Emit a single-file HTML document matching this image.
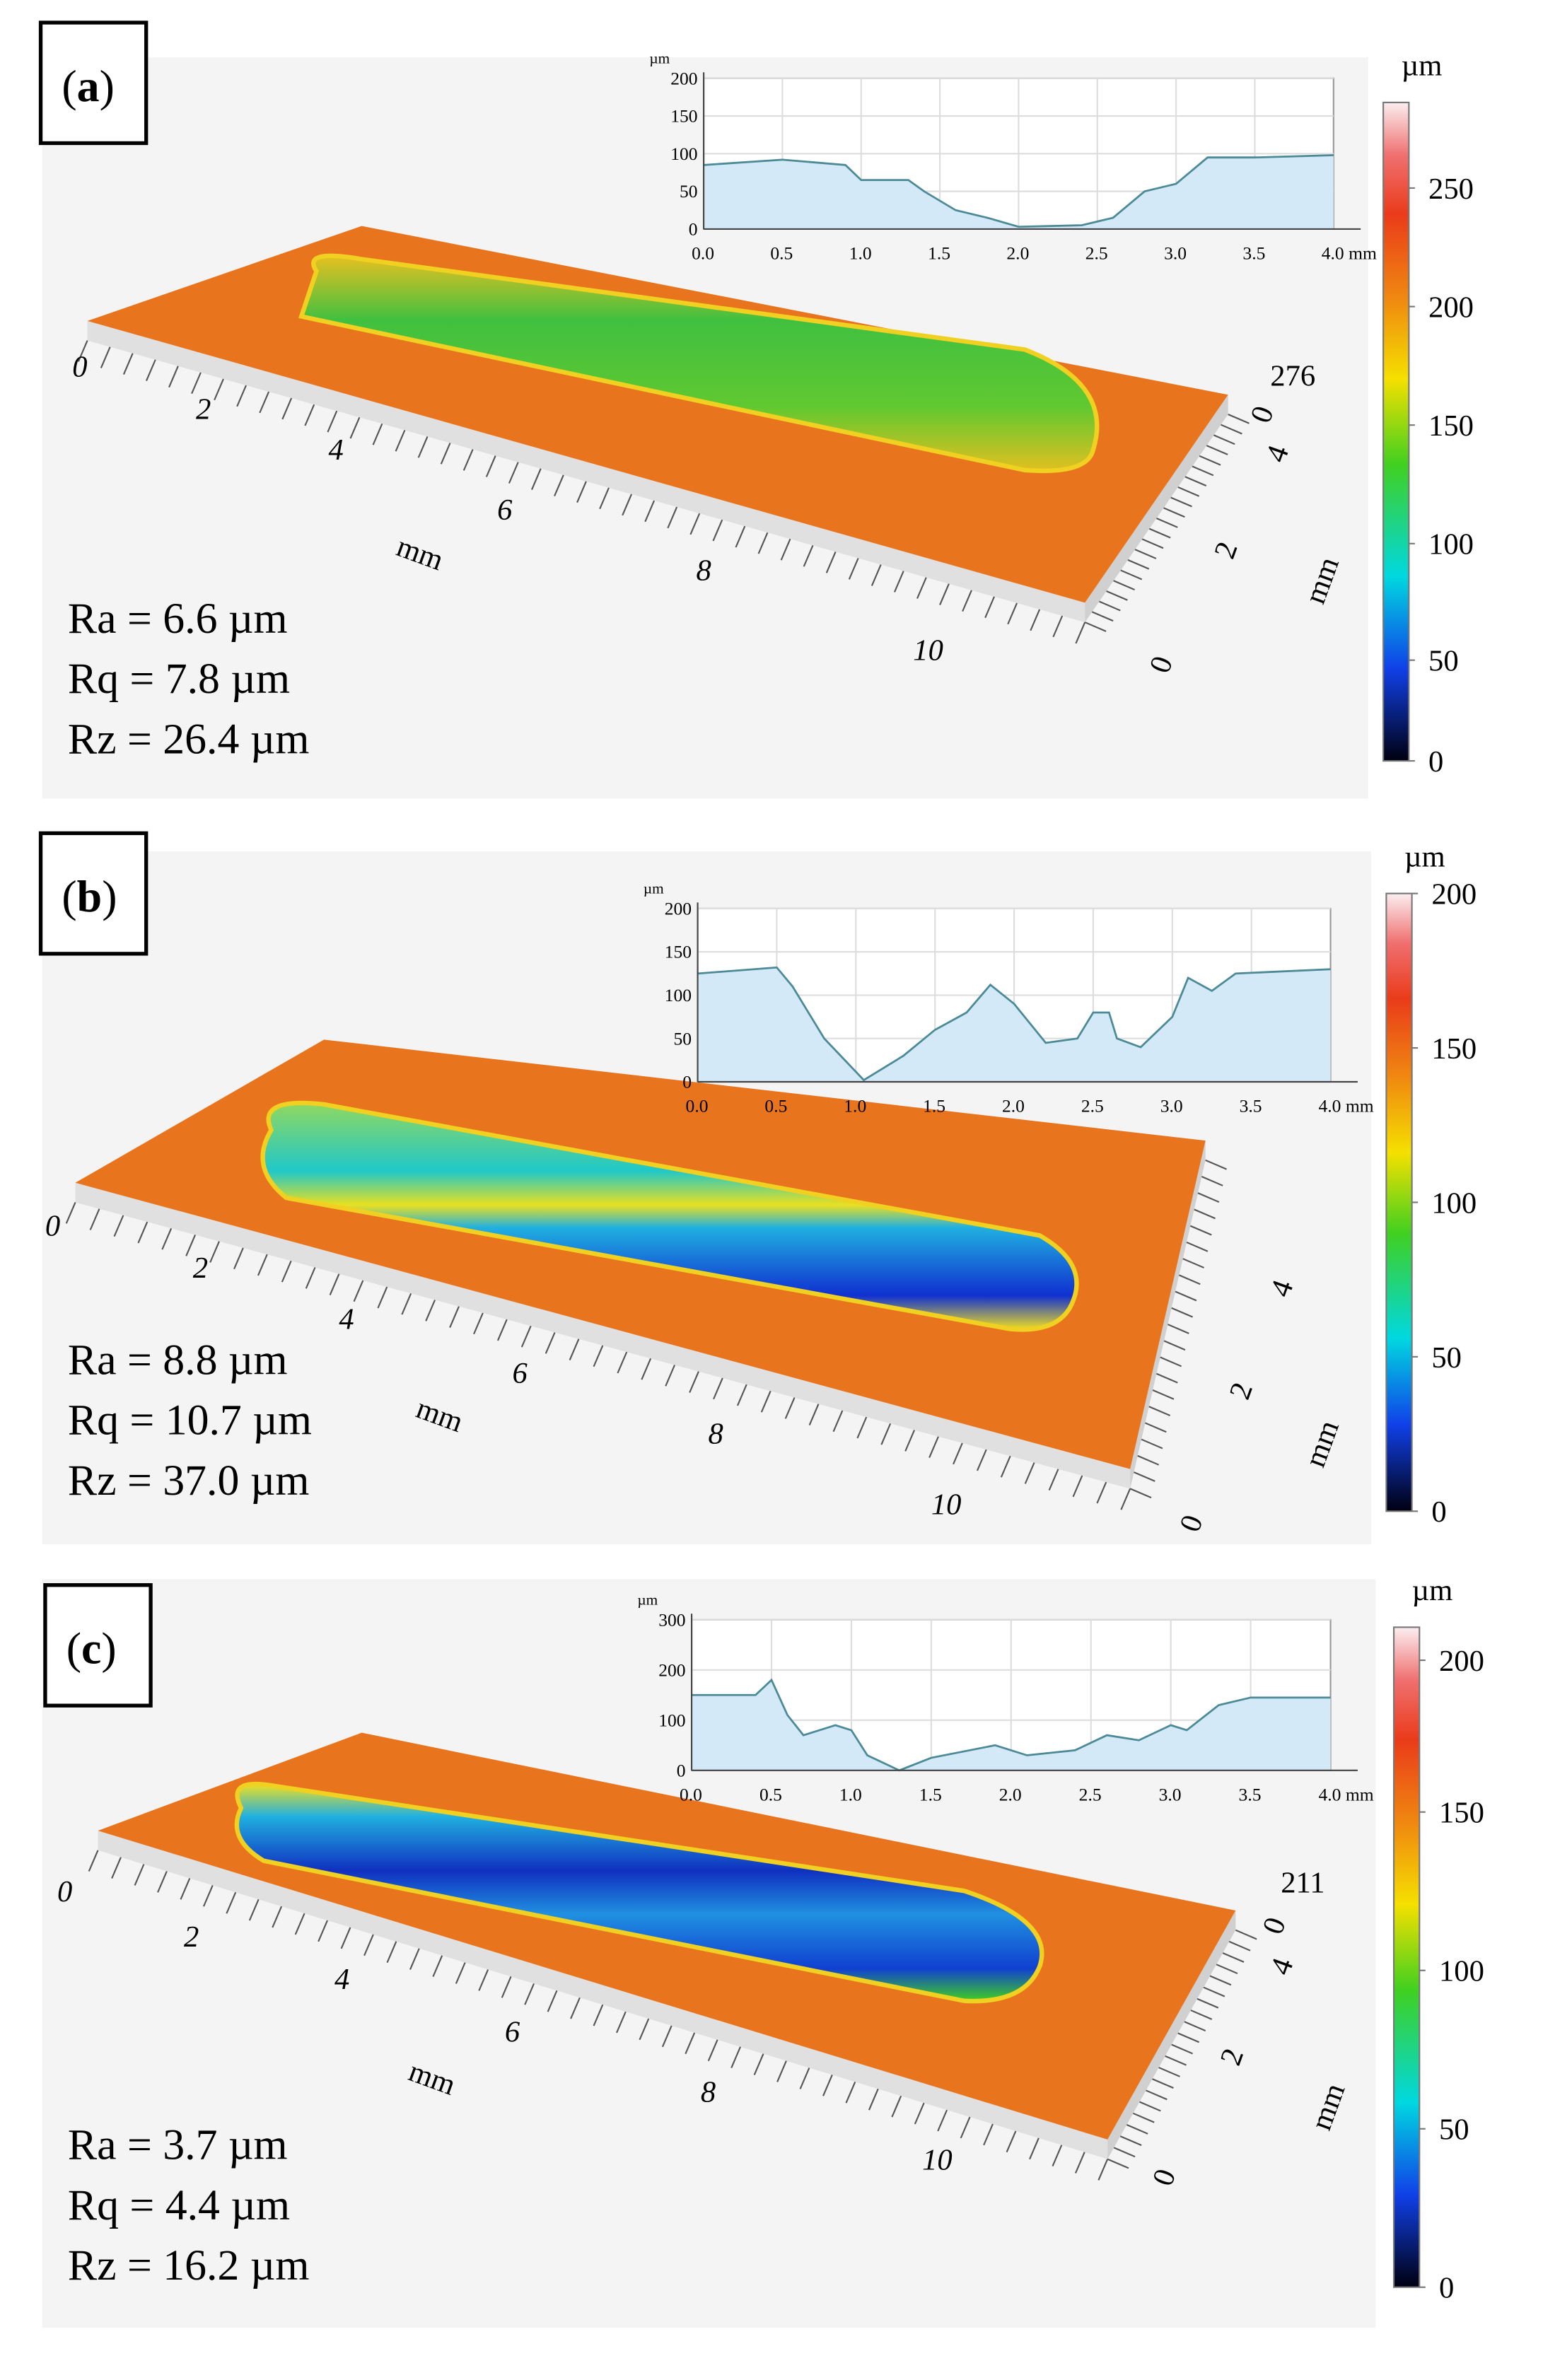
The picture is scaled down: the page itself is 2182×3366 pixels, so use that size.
<!DOCTYPE html>
<html><head><meta charset="utf-8"><style>
html,body{margin:0;padding:0;background:#fff}
svg{display:block}
</style></head><body>
<svg id="s" width="2182" height="3366" viewBox="0 0 1024 1579.6" preserveAspectRatio="none" xmlns="http://www.w3.org/2000/svg" font-family="Liberation Serif, serif">
<defs>
<linearGradient id="cb" x1="0" y1="0" x2="0" y2="1">
<stop offset="0" stop-color="#fbeef0"/><stop offset="0.08" stop-color="#f07070"/><stop offset="0.17" stop-color="#ea3b1a"/><stop offset="0.3" stop-color="#f08a10"/><stop offset="0.42" stop-color="#f5e000"/><stop offset="0.55" stop-color="#40d020"/><stop offset="0.72" stop-color="#00d8e0"/><stop offset="0.86" stop-color="#1040e8"/><stop offset="1" stop-color="#000010"/>
</linearGradient>
<linearGradient id="ga" x1="0" y1="0" x2="0" y2="1"><stop offset="0" stop-color="#e8c020"/><stop offset="0.3" stop-color="#40c040"/><stop offset="0.7" stop-color="#60c830"/><stop offset="1" stop-color="#e0c020"/></linearGradient>
<linearGradient id="gb" x1="0" y1="0" x2="0" y2="1"><stop offset="0" stop-color="#90d860"/><stop offset="0.3" stop-color="#20c8c8"/><stop offset="0.45" stop-color="#e8e020"/><stop offset="0.55" stop-color="#20b0e0"/><stop offset="0.85" stop-color="#1030d0"/><stop offset="1" stop-color="#f0e020"/></linearGradient>
<linearGradient id="gc" x1="0" y1="0" x2="0" y2="1"><stop offset="0" stop-color="#f0e020"/><stop offset="0.15" stop-color="#20b0e0"/><stop offset="0.4" stop-color="#1030c0"/><stop offset="0.6" stop-color="#2090e0"/><stop offset="0.85" stop-color="#1040d0"/><stop offset="1" stop-color="#40d020"/></linearGradient>
</defs>
<g id="g"></g>
</svg>
<script>
const g=document.getElementById('g');let h='';
function poly(p,f,extra=''){h+=`<polygon points="${p.map(a=>a.join(',')).join(' ')}" fill="${f}" ${extra}/>`;}
function txt(x,y,t,s,extra=''){h+=`<text x="${x}" y="${y}" font-size="${s}" ${extra}>${t}</text>`;}
function panel(o){
 h+=`<rect x="${o.bg[0]}" y="${o.bg[1]}" width="${o.bg[2]}" height="${o.bg[3]}" fill="#f4f4f4"/>`;
 h+=`<rect x="${o.box[0]}" y="${o.box[1]}" width="70" height="80" fill="#fff" stroke="#000" stroke-width="2.5"/>`;
 txt(o.box[0]+14,o.box[1]+52,`(<tspan font-weight="bold">${o.lab}</tspan>)`,30);
 const [A,B,C,D]=o.q, t=13;
 poly([A,B,[B[0],B[1]+t],[A[0],A[1]+t]],'#e0e0e0');
 poly([B,C,[C[0],C[1]+t],[B[0],B[1]+t]],'#d0d0d0');
 poly([A,B,C,D],'#e8741e');
 h+=`<path d="${o.pocket}" fill="url(#${o.grad})" stroke="#f0d020" stroke-width="3"/>`;
 for(let i=0;i<=44;i++){const f=i/44;const x=A[0]+(B[0]-A[0])*f,y=A[1]+t+(B[1]-A[1])*f;h+=`<line x1="${x}" y1="${y}" x2="${x-6}" y2="${y+14}" stroke="#555" stroke-width="1"/>`;}
 for(let i=0;i<=20;i++){const f=i/20;const x=B[0]+(C[0]-B[0])*f,y=B[1]+t+(C[1]-B[1])*f;h+=`<line x1="${x}" y1="${y}" x2="${x+14}" y2="${y+6}" stroke="#555" stroke-width="1"/>`;}
 o.xl.forEach(([x,y,s])=>txt(x,y,s,20,'font-style="italic"'));
 txt(o.mm1[0],o.mm1[1],'mm',20,`transform="rotate(20 ${o.mm1[0]} ${o.mm1[1]})"`);
 txt(o.mm2[0],o.mm2[1],'mm',20,`transform="rotate(-70 ${o.mm2[0]} ${o.mm2[1]})"`);
 o.yl.forEach(([x,y,s])=>txt(x,y,s,20,`transform="rotate(-70 ${x} ${y})"`));
 o.r.forEach((s,i)=>txt(45,o.ry+i*40,s,29));
 const [cx,cy,ch]=o.cb;
 h+=`<rect x="${cx}" y="${cy}" width="17" height="${ch}" fill="url(#cb)" stroke="#777" stroke-width="1"/>`;
 txt(cx+12,cy-18,'µm',20);
 o.cbl.forEach(([v,s])=>{const y=cy+ch*(1-v);txt(cx+30,y+7,s,20);h+=`<line x1="${cx+17}" y1="${y}" x2="${cx+21}" y2="${y}" stroke="#777"/>`;});
 const [px,py,pw,ph,ymax,ylabs,data]=o.ins;
 h+=`<rect x="${px}" y="${py}" width="${pw}" height="${ph}" fill="#fff" stroke="#999" stroke-width="1"/>`;
 for(let k=1;k<8;k++){const x=px+pw*k/8;h+=`<line x1="${x}" y1="${py}" x2="${x}" y2="${py+ph}" stroke="#ddd"/>`;}
 ylabs.forEach(v=>{const y=py+ph*(1-v/ymax);h+=`<line x1="${px}" y1="${y}" x2="${px+pw}" y2="${y}" stroke="#ddd"/>`;txt(px-4,y+4,v,12,'text-anchor="end"');});
 txt(px-36,py-10,'µm',10);
 let pts=data.map(([a,b])=>[px+a/4*pw,py+ph*(1-b/ymax)]);
 const pl=pts.map(p=>p.join(',')).join(' ');
 h+=`<polygon points="${px},${py+ph} ${pl} ${px+pw},${py+ph}" fill="#d4e9f8"/>`;
 h+=`<polyline points="${pl}" fill="none" stroke="#4b8a96" stroke-width="1.3"/>`;
 h+=`<line x1="${px}" y1="${py+ph}" x2="${px+pw+18}" y2="${py+ph}" stroke="#444"/><line x1="${px}" y1="${py-4}" x2="${px}" y2="${py+ph}" stroke="#444"/>`;
 ['0.0','0.5','1.0','1.5','2.0','2.5','3.0','3.5','4.0 mm'].forEach((s,k)=>txt(px+pw*k/8-8,py+ph+20,s,12));
}
panel({lab:'a',bg:[28,38,880,492],box:[27,15],q:[[58,213],[720,400],[815,262],[240,150]],grad:'ga',
 pocket:'M210,180 Q200,165 240,172 L680,232 Q740,255 725,300 Q720,315 680,312 L200,210 Z',
 xl:[[48,250,'0'],[130,278,'2'],[218,305,'4'],[330,345,'6'],[462,385,'8'],[606,438,'10']],mm1:[262,368],mm2:[878,402],
 yl:[[775,448,'0'],[818,372,'2'],[852,308,'4'],[842,282,'0']],r:['Ra = 6.6 µm','Rq = 7.8 µm','Rz = 26.4 µm'],ry:420,
 cb:[918,68,437],cbl:[[0,'0'],[0.153,'50'],[0.33,'100'],[0.51,'150'],[0.69,'200'],[0.87,'250']],
 ins:[467,52,418,100,200,[0,50,100,150,200],[[0,85],[0.5,92],[0.9,85],[1.0,65],[1.3,65],[1.4,50],[1.6,25],[1.8,15],[2.0,3],[2.4,5],[2.6,15],[2.8,50],[3.0,60],[3.2,95],[3.5,95],[4,98]]]});
txt(843,256,'276',20);
panel({lab:'b',bg:[28,565,882,460],box:[27,553],q:[[50,785],[750,975],[800,757],[215,690]],grad:'gb',
 pocket:'M180,750 Q170,728 215,733 L690,820 Q725,840 710,868 Q700,885 670,882 L190,795 Q165,775 180,750 Z',
 xl:[[30,820,'0'],[128,848,'2'],[225,882,'4'],[340,918,'6'],[470,958,'8'],[618,1005,'10']],mm1:[275,940],mm2:[878,975],
 yl:[[795,1018,'0'],[828,930,'2'],[855,862,'4']],r:['Ra = 8.8 µm','Rq = 10.7 µm','Rz = 37.0 µm'],ry:912,
 cb:[920,593,410],cbl:[[0,'0'],[0.25,'50'],[0.5,'100'],[0.75,'150'],[1,'200']],
 ins:[463,603,420,115,200,[0,50,100,150,200],[[0,125],[0.5,132],[0.6,110],[0.8,50],[1.05,2],[1.3,30],[1.5,60],[1.7,80],[1.85,112],[2.0,90],[2.2,45],[2.4,50],[2.5,80],[2.6,80],[2.65,50],[2.8,40],[3.0,75],[3.1,120],[3.25,105],[3.4,125],[4,130]]]});
panel({lab:'c',bg:[28,1048,885,497],box:[30,1052],q:[[65,1215],[735,1420],[820,1268],[240,1150]],grad:'gc',
 pocket:'M160,1200 Q150,1180 180,1185 L640,1255 Q700,1275 690,1305 Q680,1330 640,1328 L175,1235 Q150,1220 160,1200 Z',
 xl:[[38,1262,'0'],[122,1292,'2'],[222,1320,'4'],[335,1355,'6'],[465,1395,'8'],[612,1440,'10']],mm1:[270,1380],mm2:[882,1415],
 yl:[[777,1452,'0'],[822,1372,'2'],[855,1312,'4'],[850,1285,'0']],r:['Ra = 3.7 µm','Rq = 4.4 µm','Rz = 16.2 µm'],ry:1433,
 cb:[925,1080,438],cbl:[[0,'0'],[0.24,'50'],[0.48,'100'],[0.72,'150'],[0.95,'200']],
 ins:[459,1075,424,100,300,[0,100,200,300],[[0,150],[0.4,150],[0.5,180],[0.6,110],[0.7,70],[0.9,90],[1.0,80],[1.1,30],[1.3,0],[1.5,25],[1.9,50],[2.1,30],[2.4,40],[2.6,70],[2.8,60],[3.0,90],[3.1,80],[3.3,130],[3.5,145],[4,145]]]});
txt(850,1256,'211',20);
g.innerHTML=h;
</script>
</body></html>
